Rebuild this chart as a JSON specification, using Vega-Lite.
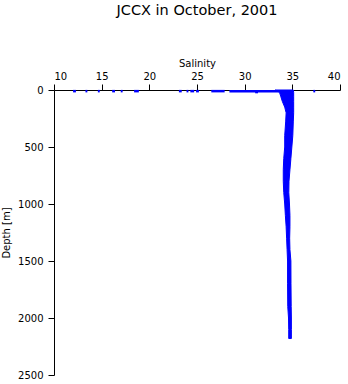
{
  "$schema": "https://vega.github.io/schema/vega-lite/v6.json",
  "width": 286,
  "height": 285,
  "autosize": {"type": "none"},
  "padding": {"left": 54, "top": 90, "right": 8, "bottom": 9},
  "title": {"text": "JCCX in October, 2001", "font": "DejaVu Sans", "fontSize": 14.5, "fontWeight": "normal", "color": "black", "anchor": "middle", "offset": 40},
  "config": {
    "view": {"stroke": null},
    "axis": {"grid": false, "domainColor": "black", "tickColor": "black", "labelColor": "black", "titleColor": "black", "labelFont": "DejaVu Sans", "titleFont": "DejaVu Sans", "labelFontSize": 10, "titleFontSize": 10, "titleFontWeight": "normal", "tickSize": 6}
  },
  "datasets": {
    "band": [
      {"depth": 0, "smin": 33.2, "smax": 35.1},
      {"depth": 20, "smin": 33.65, "smax": 35.14},
      {"depth": 60, "smin": 33.8, "smax": 35.14},
      {"depth": 100, "smin": 33.95, "smax": 35.14},
      {"depth": 150, "smin": 34.2, "smax": 35.14},
      {"depth": 200, "smin": 34.35, "smax": 35.14},
      {"depth": 280, "smin": 34.3, "smax": 35.1},
      {"depth": 400, "smin": 34.2, "smax": 35.05},
      {"depth": 500, "smin": 34.2, "smax": 34.95},
      {"depth": 600, "smin": 34.1, "smax": 34.85},
      {"depth": 700, "smin": 34.05, "smax": 34.75},
      {"depth": 800, "smin": 34.05, "smax": 34.65},
      {"depth": 900, "smin": 34.1, "smax": 34.63},
      {"depth": 1000, "smin": 34.2, "smax": 34.7},
      {"depth": 1100, "smin": 34.27, "smax": 34.75},
      {"depth": 1200, "smin": 34.35, "smax": 34.75},
      {"depth": 1300, "smin": 34.4, "smax": 34.72},
      {"depth": 1400, "smin": 34.45, "smax": 34.75},
      {"depth": 1500, "smin": 34.5, "smax": 34.85},
      {"depth": 1700, "smin": 34.5, "smax": 34.86},
      {"depth": 1900, "smin": 34.52, "smax": 34.88},
      {"depth": 2000, "smin": 34.6, "smax": 34.9},
      {"depth": 2100, "smin": 34.62, "smax": 34.9},
      {"depth": 2180, "smin": 34.62, "smax": 34.9}
    ],
    "surface": [
      {"depth": 10, "s1": 12.0, "s2": 12.3},
      {"depth": 10, "s1": 13.3, "s2": 13.5},
      {"depth": 10, "s1": 14.6, "s2": 14.8},
      {"depth": 10, "s1": 16.1, "s2": 16.4},
      {"depth": 10, "s1": 17.0, "s2": 17.2},
      {"depth": 10, "s1": 18.4, "s2": 18.9},
      {"depth": 10, "s1": 23.1, "s2": 23.4},
      {"depth": 10, "s1": 23.9, "s2": 24.1},
      {"depth": 10, "s1": 24.3, "s2": 24.7},
      {"depth": 10, "s1": 24.9, "s2": 25.2},
      {"depth": 10, "s1": 26.5, "s2": 27.9},
      {"depth": 10, "s1": 28.4, "s2": 33.6},
      {"depth": 18, "s1": 31.1, "s2": 31.4},
      {"depth": 10, "s1": 37.2, "s2": 37.4}
    ]
  },
  "layer": [
    {
      "data": {"name": "band"},
      "mark": {"type": "area", "orient": "horizontal", "color": "#0000ff", "stroke": "#0000ff", "strokeWidth": 1, "opacity": 1},
      "encoding": {
        "y": {"field": "depth", "type": "quantitative", "scale": {"domain": [0, 2500], "reverse": true, "nice": false}, "axis": {"values": [0, 500, 1000, 1500, 2000, 2500], "format": "d", "title": "Depth [m]", "labelPadding": 5, "titlePadding": 6}},
        "x": {"field": "smin", "type": "quantitative", "scale": {"domain": [10, 40], "nice": false, "zero": false}, "axis": {"orient": "top", "values": [10, 15, 20, 25, 30, 35, 40], "title": "Salinity", "labelPadding": 3, "titlePadding": 3}},
        "x2": {"field": "smax"}
      }
    },
    {
      "data": {"name": "surface"},
      "mark": {"type": "rule", "color": "#0000ff", "strokeWidth": 2.5},
      "encoding": {
        "y": {"field": "depth", "type": "quantitative"},
        "x": {"field": "s1", "type": "quantitative"},
        "x2": {"field": "s2"}
      }
    }
  ]
}
